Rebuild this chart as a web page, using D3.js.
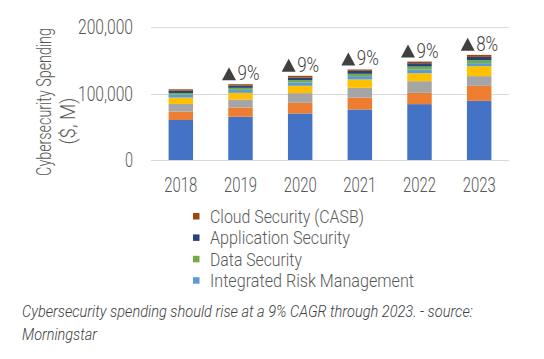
<!DOCTYPE html>
<html>
<head>
<meta charset="utf-8">
<script src="https://cdn.jsdelivr.net/npm/d3@7"></script>
<style>
  html, body { margin: 0; padding: 0; background: #fff; }
  svg text { font-family: Roboto, "Liberation Sans", sans-serif; font-weight: 300; }
</style>
</head>
<body>
<svg id="chart" width="544" height="359"></svg>
<script>
// ---- data ----
const years = ["2018", "2019", "2020", "2021", "2022", "2023"];
const securityServices        = [60200, 65000, 70000, 76000, 84000, 89000];
const infrastructureProtection = [12500, 14000, 16000, 18000, 17000, 22500];
const networkSecurityEquipment = [11600, 12000, 14600, 14500, 17500, 14600];
const identityAccessManagement = [9500, 10000, 11000, 12600, 12000, 15000];
const integratedRiskManagement = [4500, 4500, 5000, 5000, 5500, 4500];
const dataSecurity             = [2500, 3000, 3500, 3500, 4500, 4500];
const applicationSecurity      = [3500, 3500, 4000, 4500, 5000, 5000];
const cloudSecurity            = [2000, 2000, 2500, 2000, 2500, 3000];
const growthPct = [null, 9, 9, 9, 9, 8];
const yTicks = [0, 100000, 200000];
const seriesNames = ["Security Services", "Infrastructure Protection", "Network Security Equipment",
  "Identity Access Management", "Integrated Risk Management", "Data Security",
  "Application Security", "Cloud Security (CASB)"];
const seriesValues = [securityServices, infrastructureProtection, networkSecurityEquipment,
  identityAccessManagement, integratedRiskManagement, dataSecurity, applicationSecurity, cloudSecurity];
const seriesColors = ["#4472C4", "#ED7D31", "#A5A5A5", "#FFC000", "#5B9BD5", "#70AD47", "#264478", "#9E480E"];
const legendShown = ["Cloud Security (CASB)", "Application Security", "Data Security", "Integrated Risk Management"];
const captionLines = ["Cybersecurity spending should rise at a 9% CAGR through 2023. - source:", "Morningstar"];

// ---- helpers ----
// horizontally condense a text to a target width (mimics a condensed face)
function squeeze(sel, widthFn) {
  sel.each(function (d, i) {
    const w = this.getComputedTextLength();
    const s = widthFn(d, i) / w;
    const x = +this.getAttribute("x") || 0;
    const y = +this.getAttribute("y") || 0;
    const prev = this.getAttribute("transform") || "";
    this.setAttribute("x", 0);
    this.setAttribute("y", 0);
    this.setAttribute("transform", `translate(${x},${y}) ${prev} scale(${s},1)`);
  });
}

// ---- build ----
const svg = d3.select("#chart");
const keys = seriesNames;
const table = years.map((y, i) => {
  const row = { year: y };
  keys.forEach((k, j) => row[k] = seriesValues[j][i]);
  return row;
});
const stacked = d3.stack().keys(keys)(table);

const x = d3.scaleBand().domain(years).range([151, 509]).paddingInner(0.59).paddingOuter(0.295);
const y = d3.scaleLinear().domain([0, 200000]).range([160, 27]);
const color = d3.scaleOrdinal().domain(keys).range(seriesColors);

// gridlines
svg.append("g").selectAll("line").data(yTicks).join("line")
  .attr("x1", 151).attr("x2", 509)
  .attr("y1", d => Math.round(y(d)) + 0.5).attr("y2", d => Math.round(y(d)) + 0.5)
  .attr("stroke", "#D9D9D9").attr("stroke-width", 1);

// y tick labels
const fmt = d3.format(",");
const yt = svg.append("g").selectAll("text").data(yTicks).join("text")
  .attr("x", 133).attr("y", d => y(d) + 7)
  .attr("text-anchor", "end")
  .attr("font-size", 19.5).attr("fill", "#595959")
  .text(d => fmt(d));
squeeze(yt, d => d === 0 ? 8 : 55);

// y axis title
const t1 = svg.append("text").attr("transform", "translate(51,102) rotate(-90)")
  .attr("text-anchor", "middle").attr("font-size", 20).attr("fill", "#595959")
  .text("Cybersecurity Spending");
const t2 = svg.append("text").attr("transform", "translate(75,121) rotate(-90)")
  .attr("text-anchor", "middle").attr("font-size", 20).attr("fill", "#595959")
  .text("($, M)");
squeeze(t1, () => 148);
squeeze(t2, () => 47);

// bars
svg.append("g").selectAll("g").data(stacked).join("g")
  .attr("fill", d => color(d.key))
  .selectAll("rect").data(d => d).join("rect")
  .attr("x", d => x(d.data.year))
  .attr("width", x.bandwidth())
  .attr("y", d => y(d[1]))
  .attr("height", d => y(d[0]) - y(d[1]));

// x labels
const xl = svg.append("g").selectAll("text").data(years).join("text")
  .attr("x", d => x(d) + x.bandwidth() / 2).attr("y", 192)
  .attr("text-anchor", "middle").attr("font-size", 19.5).attr("fill", "#595959")
  .text(d => d);
squeeze(xl, () => 33);

// growth labels: triangle marker + percentage text
const totals = table.map(r => d3.sum(keys, k => r[k]));
const growth = years.map((yr, i) => ({ yr, g: growthPct[i], t: totals[i] })).filter(d => d.g != null);
const gg = svg.append("g").selectAll("g").data(growth).join("g")
  .attr("transform", d => `translate(${x(d.yr) + x.bandwidth() / 2},${y(d.t) - 4})`);
gg.append("path")
  .attr("d", "M-18.5,0 L-4.5,0 L-11.5,-13 Z")
  .attr("fill", "#404040");
const gt = gg.append("text").attr("x", -3).attr("y", 0)
  .attr("font-size", 19.5).attr("fill", "#404040")
  .text(d => d.g + "%");
squeeze(gt, () => 22);

// legend
const legendWidths = [154, 140, 92, 204];
const lg = svg.append("g").selectAll("g").data(legendShown).join("g")
  .attr("transform", (d, i) => `translate(193,${216.5 + i * 21.4})`);
lg.append("rect").attr("x", 0).attr("y", -3.5).attr("width", 6.5).attr("height", 6.5)
  .attr("fill", d => color(d));
const lt = lg.append("text").attr("x", 17).attr("y", 6.5)
  .attr("font-size", 18.5).attr("fill", "#595959")
  .text(d => d);
squeeze(lt, (d, i) => legendWidths[i]);

// caption
const ct = svg.append("g").selectAll("text").data(captionLines).join("text")
  .attr("x", 22).attr("y", (d, i) => 317 + i * 23)
  .attr("font-size", 17).attr("font-style", "italic").attr("fill", "#404040")
  .text(d => d);
squeeze(ct, (d, i) => i === 0 ? 451 : 75);
</script>
</body>
</html>
